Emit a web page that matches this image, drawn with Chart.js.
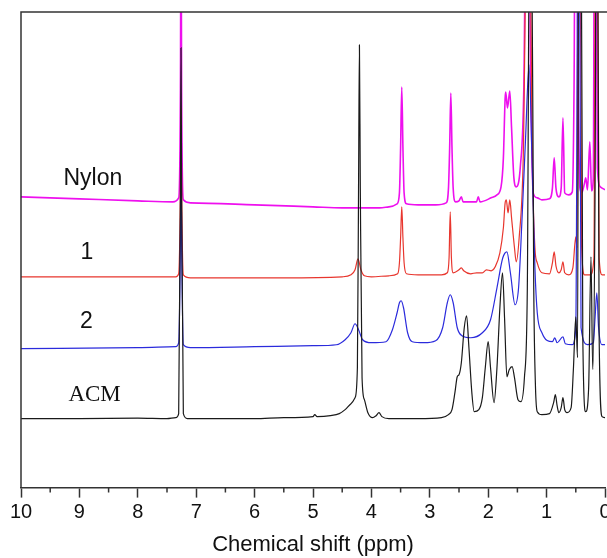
<!DOCTYPE html>
<html>
<head>
<meta charset="utf-8">
<script src="https://cdn.jsdelivr.net/npm/chart.js@4.4.1/dist/chart.umd.min.js"></script>
<style>
  html, body { margin: 0; padding: 0; background: #fff; overflow: hidden; }
  #wrap { width: 607px; height: 558px; overflow: hidden; }
</style>
</head>
<body>
<div id="wrap"><canvas id="nmr" width="616" height="558"></canvas></div>
<script>
// chemical shift (ppm), intensity (arbitrary, stacked)
const acm = [
  [10, 69], [9, 69], [8, 69.5], [7.5, 69], [7.35, 70], [7.3, 74], [7.27, 300], [7.26, 440], [7.25, 300],
  [7.22, 74], [7.15, 69], [6, 69], [5.5, 70], [5, 71], [4.97, 73], [4.93, 71], [4.7, 72], [4.55, 74],
  [4.45, 78], [4.35, 84], [4.28, 90], [4.24, 120], [4.22, 300], [4.205, 443], [4.19, 300], [4.16, 110],
  [4.12, 88], [4.06, 75], [3.98, 70], [3.92, 72], [3.87, 75], [3.82, 71], [3.7, 69], [3.2, 69], [2.8, 70],
  [2.68, 73], [2.62, 78], [2.57, 95], [2.53, 111], [2.5, 113], [2.46, 125], [2.41, 160], [2.37, 172],
  [2.33, 140], [2.28, 95], [2.24, 76], [2.16, 78], [2.1, 90], [2.05, 120], [2.0, 146], [1.96, 120],
  [1.9, 85], [1.85, 120], [1.8, 180], [1.755, 215], [1.72, 170], [1.68, 111], [1.64, 118], [1.59, 121],
  [1.55, 110], [1.49, 88], [1.44, 86], [1.38, 110], [1.33, 200], [1.29, 600], [1.26, 600], [1.22, 200],
  [1.19, 100], [1.16, 76], [1.08, 73], [0.95, 74], [0.88, 85], [0.85, 93], [0.82, 82], [0.79, 75],
  [0.75, 80], [0.72, 90], [0.69, 78], [0.65, 75], [0.58, 80], [0.54, 120], [0.5, 171], [0.47, 130],
  [0.45, 600], [0.41, 600], [0.38, 150], [0.33, 76], [0.28, 100], [0.24, 231], [0.21, 118], [0.17, 300],
  [0.15, 600], [0.13, 600], [0.1, 150], [0.05, 71], [0, 70]
];

const sample2 = [
  [10, 139], [8, 140], [7.35, 141], [7.3, 145], [7.27, 250], [7.26, 330], [7.25, 250], [7.22, 143],
  [7.1, 140], [6, 141], [5, 142], [4.6, 143], [4.45, 148], [4.35, 155], [4.28, 164], [4.22, 158],
  [4.15, 148], [4, 145], [3.75, 146], [3.64, 158], [3.56, 175], [3.52, 185], [3.49, 187], [3.45, 180],
  [3.38, 155], [3.3, 146], [3.1, 145], [2.9, 147], [2.78, 160], [2.7, 185], [2.65, 193], [2.6, 185],
  [2.53, 160], [2.45, 152], [2.3, 150], [2.1, 155], [1.96, 168], [1.85, 200], [1.75, 230], [1.68, 236],
  [1.62, 215], [1.54, 183], [1.48, 200], [1.42, 270], [1.36, 350], [1.3, 423], [1.25, 330], [1.2, 220],
  [1.16, 175], [1.08, 155], [0.9, 146], [0.86, 150], [0.82, 145], [0.72, 151], [0.68, 144], [0.56, 143],
  [0.5, 160], [0.46, 600], [0.44, 600], [0.41, 160], [0.3, 143], [0.2, 145], [0.17, 170], [0.14, 195],
  [0.11, 160], [0.05, 143], [0, 143]
];

const sample1 = [
  [10, 211], [8, 211], [7.35, 211], [7.3, 214], [7.27, 300], [7.26, 380], [7.25, 300], [7.22, 213],
  [7.1, 210], [5.5, 210], [4.5, 211], [4.35, 213], [4.28, 218], [4.23, 229], [4.18, 218], [4.12, 212],
  [4, 211], [3.7, 212], [3.55, 214], [3.52, 225], [3.5, 250], [3.48, 281], [3.46, 250], [3.44, 225],
  [3.4, 214], [3.2, 213], [2.8, 213], [2.7, 215], [2.67, 230], [2.65, 276], [2.63, 230], [2.6, 215],
  [2.5, 218], [2.46, 220], [2.42, 217], [2.3, 214], [2.2, 215], [2.1, 215], [2.03, 218], [1.95, 217],
  [1.88, 221], [1.8, 235], [1.74, 260], [1.71, 285], [1.69, 288], [1.66, 275], [1.63, 288], [1.6, 270],
  [1.55, 240], [1.52, 226], [1.47, 250], [1.4, 330], [1.33, 600], [1.29, 600], [1.25, 350], [1.2, 240],
  [1.16, 225], [1.08, 215], [0.95, 214], [0.9, 225], [0.87, 236], [0.84, 222], [0.79, 215], [0.75, 218],
  [0.72, 226], [0.69, 215], [0.62, 213], [0.55, 220], [0.5, 251], [0.48, 240], [0.46, 600], [0.43, 600],
  [0.4, 240], [0.35, 213], [0.25, 213], [0.19, 230], [0.16, 600], [0.13, 600], [0.1, 230], [0.05, 213],
  [0, 213]
];

const nylon = [
  [10, 291], [9, 289], [8, 287], [7.4, 286], [7.3, 290], [7.27, 400], [7.26, 600], [7.25, 400],
  [7.22, 288], [7.1, 285], [6, 283], [5, 281], [4.5, 280], [4, 280], [3.86, 280], [3.7, 281],
  [3.56, 284], [3.52, 295], [3.5, 340], [3.48, 401], [3.46, 340], [3.44, 295], [3.4, 284], [3.2, 283],
  [2.9, 283], [2.72, 285], [2.68, 300], [2.66, 340], [2.64, 395], [2.62, 340], [2.6, 300], [2.56, 286],
  [2.5, 287], [2.46, 291], [2.43, 286], [2.2, 286], [2.17, 291], [2.14, 286], [1.95, 290], [1.85, 293],
  [1.78, 301], [1.74, 330], [1.71, 390], [1.7, 396], [1.67, 380], [1.63, 397], [1.6, 360], [1.56, 310],
  [1.52, 301], [1.45, 321], [1.39, 400], [1.35, 600], [1.31, 600], [1.27, 400], [1.23, 295], [1.16, 290],
  [1.08, 288], [0.95, 289], [0.9, 300], [0.87, 330], [0.84, 300], [0.79, 291], [0.75, 300], [0.72, 370],
  [0.69, 295], [0.62, 293], [0.56, 296], [0.53, 400], [0.51, 600], [0.49, 600], [0.46, 400], [0.43, 300],
  [0.4, 295], [0.35, 305], [0.33, 310], [0.3, 298], [0.26, 346], [0.23, 297], [0.2, 310], [0.18, 600],
  [0.16, 600], [0.13, 320], [0.08, 301], [0, 298]
];

const xTicks = [10, 9, 8, 7, 6, 5, 4, 3, 2, 1, 0];

// spectrum names placed over each trace: [text, ppm, intensity, font]
const traceLabels = [
  ['Nylon', 8.77, 309, '23px "Liberation Sans", Arial, sans-serif'],
  ['1', 8.87, 235, '23px "Liberation Sans", Arial, sans-serif'],
  ['2', 8.88, 166, '23px "Liberation Sans", Arial, sans-serif'],
  ['ACM', 8.74, 93, '23px "Liberation Serif", "Times New Roman", serif']
];

const toXY = arr => arr.map(p => ({ x: p[0], y: p[1] }));

const frameAndLabels = {
  id: 'frameAndLabels',
  afterDraw(chart) {
    const { ctx, chartArea, scales } = chart;
    const xs = scales.x, ys = scales.y;
    ctx.save();
    ctx.strokeStyle = '#333';
    ctx.lineWidth = 1.5;
    ctx.beginPath();
    ctx.moveTo(chartArea.left, chartArea.bottom);
    ctx.lineTo(chartArea.left, chartArea.top);
    ctx.lineTo(chart.width, chartArea.top);
    ctx.stroke();
    // minor ticks
    ctx.beginPath();
    for (let v = 0.5; v < 10; v += 1) {
      const px = xs.getPixelForValue(v);
      ctx.moveTo(px, chartArea.bottom);
      ctx.lineTo(px, chartArea.bottom + 5);
    }
    ctx.stroke();
    ctx.fillStyle = '#111';
    ctx.textAlign = 'center';
    ctx.textBaseline = 'middle';
    traceLabels.forEach(l => {
      ctx.font = l[3];
      ctx.fillText(l[0], xs.getPixelForValue(l[1]), ys.getPixelForValue(l[2]));
    });
    ctx.restore();
  }
};

const line = (data, color, width) => ({
  data: toXY(data),
  borderColor: color,
  borderWidth: width,
  pointRadius: 0,
  fill: false,
  cubicInterpolationMode: 'monotone'
});

new Chart(document.getElementById('nmr'), {
  type: 'line',
  data: {
    datasets: [
      line(acm, '#1a1a1a', 1.2),
      line(sample2, '#2b2bdc', 1.2),
      line(sample1, '#e8362e', 1.2),
      line(nylon, '#ee10ee', 1.6)
    ]
  },
  options: {
    responsive: false,
    animation: false,
    devicePixelRatio: 1,
    layout: { padding: { left: 21, top: 12, right: 11, bottom: 0 } },
    plugins: { legend: { display: false }, tooltip: { enabled: false } },
    scales: {
      x: {
        type: 'linear',
        reverse: true,
        min: 0,
        max: 10,
        afterBuildTicks: s => { s.ticks = xTicks.map(v => ({ value: v })); },
        grid: { drawOnChartArea: false, tickLength: 10, tickWidth: 1.5, tickColor: '#333' },
        border: { color: '#333', width: 1.5 },
        ticks: { color: '#111', padding: 3, maxRotation: 0, font: { family: '"Liberation Sans", Arial, sans-serif', size: 20 } },
        title: {
          display: true,
          text: 'Chemical shift (ppm)',
          color: '#111',
          padding: { top: 4, bottom: 0 },
          font: { family: '"Liberation Sans", Arial, sans-serif', size: 22 }
        }
      },
      y: { display: false, min: 0, max: 476 }
    }
  },
  plugins: [frameAndLabels]
});
</script>
</body>
</html>
